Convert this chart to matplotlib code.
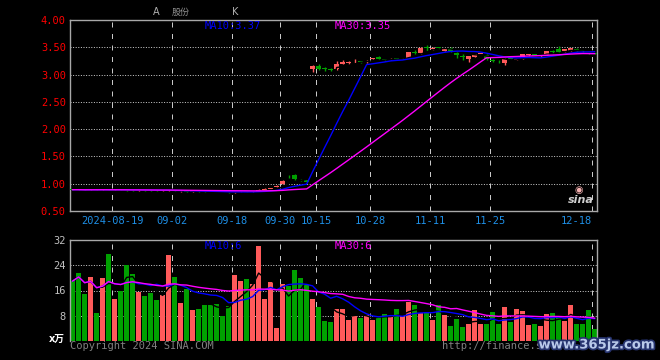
import numpy as np
import pandas as pd
import matplotlib
matplotlib.use("Agg")
import matplotlib.pyplot as plt
import matplotlib.patheffects as pe

# daily K-line, 2024-08-08 .. 2024-12-18 (88 trading days)
opens = [0.895, 0.895, 0.89, 0.885, 0.89, 0.885, 0.895, 0.885, 0.89, 0.888,
         0.885, 0.878, 0.885, 0.88, 0.877, 0.87, 0.872, 0.878, 0.86, 0.865,
         0.852, 0.857, 0.855, 0.852, 0.85, 0.848, 0.848, 0.84, 0.845, 0.858,
         0.85, 0.862, 0.89, 0.895, 0.945, 1.00, 1.16, 1.16, 1.075, 1.06,
         3.10, 3.16, 3.11, 3.10, 3.10, 3.20, 3.21, 3.24, 3.245, 3.24,
         3.29, 3.33, 3.275, 3.27, 3.295, 3.295, 3.30, 3.42, 3.39, 3.50,
         3.47, 3.50, 3.43, 3.49, 3.39, 3.34, 3.28, 3.33, 3.375, 3.36,
         3.27, 3.25, 3.22, 3.30, 3.275, 3.30, 3.35, 3.37, 3.34, 3.36,
         3.43, 3.47, 3.43, 3.44, 3.47, 3.44, 3.39, 3.385]
highs = [0.90, 0.90, 0.895, 0.895, 0.895, 0.895, 0.90, 0.895, 0.895, 0.892,
         0.89, 0.888, 0.888, 0.885, 0.88, 0.88, 0.89, 0.88, 0.87, 0.868,
         0.86, 0.86, 0.858, 0.855, 0.853, 0.85, 0.85, 0.855, 0.86, 0.862,
         0.87, 0.895, 0.915, 0.93, 0.97, 1.06, 1.16, 1.17, 1.08, 1.07,
         3.17, 3.19, 3.13, 3.12, 3.24, 3.26, 3.24, 3.28, 3.25, 3.27,
         3.30, 3.34, 3.28, 3.30, 3.30, 3.30, 3.42, 3.45, 3.50, 3.54,
         3.51, 3.51, 3.48, 3.50, 3.41, 3.37, 3.34, 3.38, 3.38, 3.37,
         3.29, 3.27, 3.30, 3.31, 3.29, 3.38, 3.38, 3.38, 3.36, 3.43,
         3.45, 3.52, 3.47, 3.48, 3.48, 3.45, 3.40, 3.39]
lows = [0.885, 0.885, 0.88, 0.88, 0.885, 0.88, 0.88, 0.88, 0.885, 0.875,
        0.875, 0.875, 0.875, 0.87, 0.87, 0.868, 0.87, 0.86, 0.855, 0.85,
        0.85, 0.85, 0.845, 0.845, 0.842, 0.84, 0.838, 0.835, 0.84, 0.848,
        0.848, 0.86, 0.885, 0.89, 0.94, 0.995, 1.11, 1.06, 1.05, 1.03,
        3.05, 3.08, 3.07, 3.06, 3.09, 3.19, 3.20, 3.22, 3.22, 3.22,
        3.28, 3.27, 3.24, 3.26, 3.28, 3.29, 3.30, 3.37, 3.38, 3.43,
        3.45, 3.46, 3.43, 3.42, 3.31, 3.27, 3.23, 3.33, 3.37, 3.27,
        3.23, 3.21, 3.17, 3.28, 3.27, 3.29, 3.34, 3.34, 3.33, 3.35,
        3.37, 3.40, 3.42, 3.43, 3.43, 3.42, 3.37, 3.37]
closes = [0.89, 0.89, 0.885, 0.89, 0.888, 0.892, 0.885, 0.89, 0.887, 0.88,
          0.878, 0.885, 0.878, 0.875, 0.872, 0.876, 0.88, 0.862, 0.865, 0.855,
          0.857, 0.852, 0.85, 0.848, 0.845, 0.845, 0.842, 0.85, 0.855, 0.85,
          0.862, 0.89, 0.90, 0.928, 0.955, 1.05, 1.155, 1.08, 1.06, 1.04,
          3.16, 3.11, 3.10, 3.09, 3.19, 3.23, 3.22, 3.25, 3.235, 3.25,
          3.30, 3.28, 3.265, 3.285, 3.285, 3.30, 3.41, 3.40, 3.48, 3.48,
          3.49, 3.48, 3.47, 3.43, 3.35, 3.32, 3.34, 3.38, 3.38, 3.28,
          3.25, 3.24, 3.28, 3.29, 3.28, 3.38, 3.37, 3.34, 3.35, 3.43,
          3.41, 3.42, 3.47, 3.48, 3.44, 3.43, 3.38, 3.375]
# volume, x10k lots
volumes = [19.0, 21.6, 14.8, 20.2, 8.8, 19.9, 27.6, 13.2, 16.0, 24.0,
           21.3, 15.5, 14.2, 15.1, 12.9, 14.5, 27.2, 20.2, 12.0, 16.4,
           9.7, 10.1, 11.3, 11.3, 11.7, 7.8, 11.0, 20.9, 19.0, 19.6,
           18.0, 30.1, 13.2, 18.6, 4.0, 18.0, 17.4, 22.5, 19.9, 17.7,
           13.2, 10.7, 6.25, 5.9, 10.1, 10.1, 6.6, 7.8, 7.2, 8.2,
           6.6, 7.8, 8.5, 7.5, 10.1, 7.8, 12.3, 11.3, 8.8, 9.1,
           6.6, 11.3, 8.2, 4.7, 6.9, 4.3, 5.3, 9.7, 5.3, 5.3,
           9.1, 5.3, 10.7, 5.9, 10.1, 9.5, 5.0, 5.3, 4.7, 8.5,
           8.8, 7.2, 6.25, 11.3, 5.3, 5.3, 9.7, 3.7]

date_idx = [7, 17, 27, 35, 41, 50, 60, 70, 87]
date_labels = ["2024-08-19", "09-02", "09-18", "09-30", "10-15",
               "10-28", "11-11", "11-25", "12-18"]
price_ticks = [0.5, 1.0, 1.5, 2.0, 2.5, 3.0, 3.5, 4.0]
vol_ticks = [8, 16, 24, 32]

RED = "#ff5a5a"
GREEN = "#00a000"
GRID = "#c8c8c8"
FRAME = "#a8a8a8"
MONO = "DejaVu Sans Mono"
W = 0.88

o = np.array(opens)
h = np.array(highs)
l = np.array(lows)
c = np.array(closes)
v = np.array(volumes)
x = np.arange(len(c))
up = c >= o
colors = np.where(up, RED, GREEN)

cs = pd.Series(c)
vs = pd.Series(v)

fig = plt.figure(figsize=(6.6, 3.6), dpi=100, facecolor="black")
ax = fig.add_axes([70 / 660, 1 - 211 / 360, 527 / 660, 191 / 360], facecolor="black")
axv = fig.add_axes([70 / 660, 1 - 341 / 360, 527 / 660, 101 / 360], facecolor="black")

for a in (ax, axv):
    a.set_xlim(0, 527 / 6)
    for d in date_idx:
        a.axvline(d, color=GRID, lw=0.72, ls=(0, (5, 6.5)), zorder=1)
    for s in a.spines.values():
        s.set_color(FRAME)
        s.set_linewidth(1.0)
    a.tick_params(length=0, pad=3)
    a.set_xticks([])

# price panel
ax.set_ylim(0.5, 4.0)
for p in price_ticks[1:-1]:
    ax.axhline(p, color=GRID, lw=0.72, ls=(0, (1, 1.6)), zorder=1)
ax.set_yticks(price_ticks)
ax.set_yticklabels(["%.2f" % p for p in price_ticks], color="#ff0000",
                   fontsize=7.5, family=MONO)

ax.vlines(x + W / 2, l, h, colors=colors, lw=1.0, zorder=3)
body = np.maximum(np.abs(c - o), 0.012)
ax.bar(x, body, bottom=np.minimum(o, c), width=W, align="edge",
       color=colors, lw=0, zorder=4)

ax.plot(x + W / 2, cs.rolling(5, min_periods=1).mean(), color="black", lw=1, zorder=5)
ax.plot(x + W / 2, cs.rolling(10, min_periods=1).mean(), color="#0000ff", lw=1, zorder=5)
ax.plot(x + W / 2, cs.rolling(30, min_periods=1).mean(), color="#ff00ff", lw=1, zorder=5)

fig.text(205 / 660, 1 - 26 / 360, "MA10:3.37", color="#0000ff", fontsize=7.5,
         family=MONO, va="center")
fig.text(335 / 660, 1 - 26 / 360, "MA30:3.35", color="#ff00ff", fontsize=7.5,
         family=MONO, va="center")

for d, lab in zip(date_idx, date_labels):
    ha = "right" if lab == "12-18" else "center"
    ax.text(d, -10 / 191, lab, transform=ax.get_xaxis_transform(), ha=ha,
            va="center", color="#1e8fe6", fontsize=7.5, family=MONO)

# volume panel
axv.set_ylim(0, 32)
axv.spines["bottom"].set_visible(False)
for p in vol_ticks[:-1]:
    axv.axhline(p, color=GRID, lw=0.72, ls=(0, (1, 1.6)), zorder=1)
axv.set_yticks(vol_ticks)
axv.set_yticklabels([str(t) for t in vol_ticks], color="#c0c0c0",
                    fontsize=7.5, family=MONO)
axv.bar(x, v, width=W, align="edge", color=colors, lw=0, zorder=2)
axv.plot(x + W / 2, vs.rolling(5, min_periods=1).mean(), color="black", lw=1, zorder=5)
axv.plot(x + W / 2, vs.rolling(10, min_periods=1).mean(), color="#0000ff", lw=1, zorder=5)
axv.plot(x + W / 2, vs.rolling(30, min_periods=1).mean(), color="#ff00ff", lw=1, zorder=5)

fig.text(205 / 660, 1 - 246 / 360, "MA10:6", color="#0000ff", fontsize=7.5,
         family=MONO, va="center")
fig.text(335 / 660, 1 - 246 / 360, "MA30:6", color="#ff00ff", fontsize=7.5,
         family=MONO, va="center")
fig.text(65 / 660, 1 - 339 / 360, "x万", color="white", fontsize=7,
         family=["DejaVu Sans", "Noto Sans CJK SC"], weight="bold",
         ha="right", va="center")
fig.text(70 / 660, 1 - 346 / 360, "Copyright 2024 SINA.COM", color="#808080",
         fontsize=7.5, family=MONO, va="center")
fig.text(442 / 660, 1 - 346 / 360, "http://finance.s", color="#808080",
         fontsize=7.5, family=MONO, va="center")
fig.text(597 / 660, 1 - 345 / 360, "www.365jz.com", color="#b9c9ea",
         fontsize=9.5, weight="bold", ha="center", va="center",
         path_effects=[pe.withStroke(linewidth=2.5, foreground="#26336e")])

# header and logo
fig.text(153 / 660, 1 - 12 / 360, "A", color="#b0b0b0", fontsize=7, va="center")
fig.text(181 / 660, 1 - 12 / 360, "股份", color="#909090", fontsize=6.5,
         family=["Noto Sans CJK SC", "DejaVu Sans"], ha="center", va="center")
fig.text(235 / 660, 1 - 12 / 360, "K", color="#b0b0b0", fontsize=7,
         ha="center", va="center")
fig.text(581 / 660, 1 - 200 / 360, "sina", color="#cfcfcf", fontsize=8,
         style="italic", weight="bold", ha="center", va="center")
fig.text(579 / 660, 1 - 190 / 360, "\u25c9", color="#f4b0b0", fontsize=7,
         ha="center", va="center")

fig.savefig("out.png", dpi=100, facecolor="black")
